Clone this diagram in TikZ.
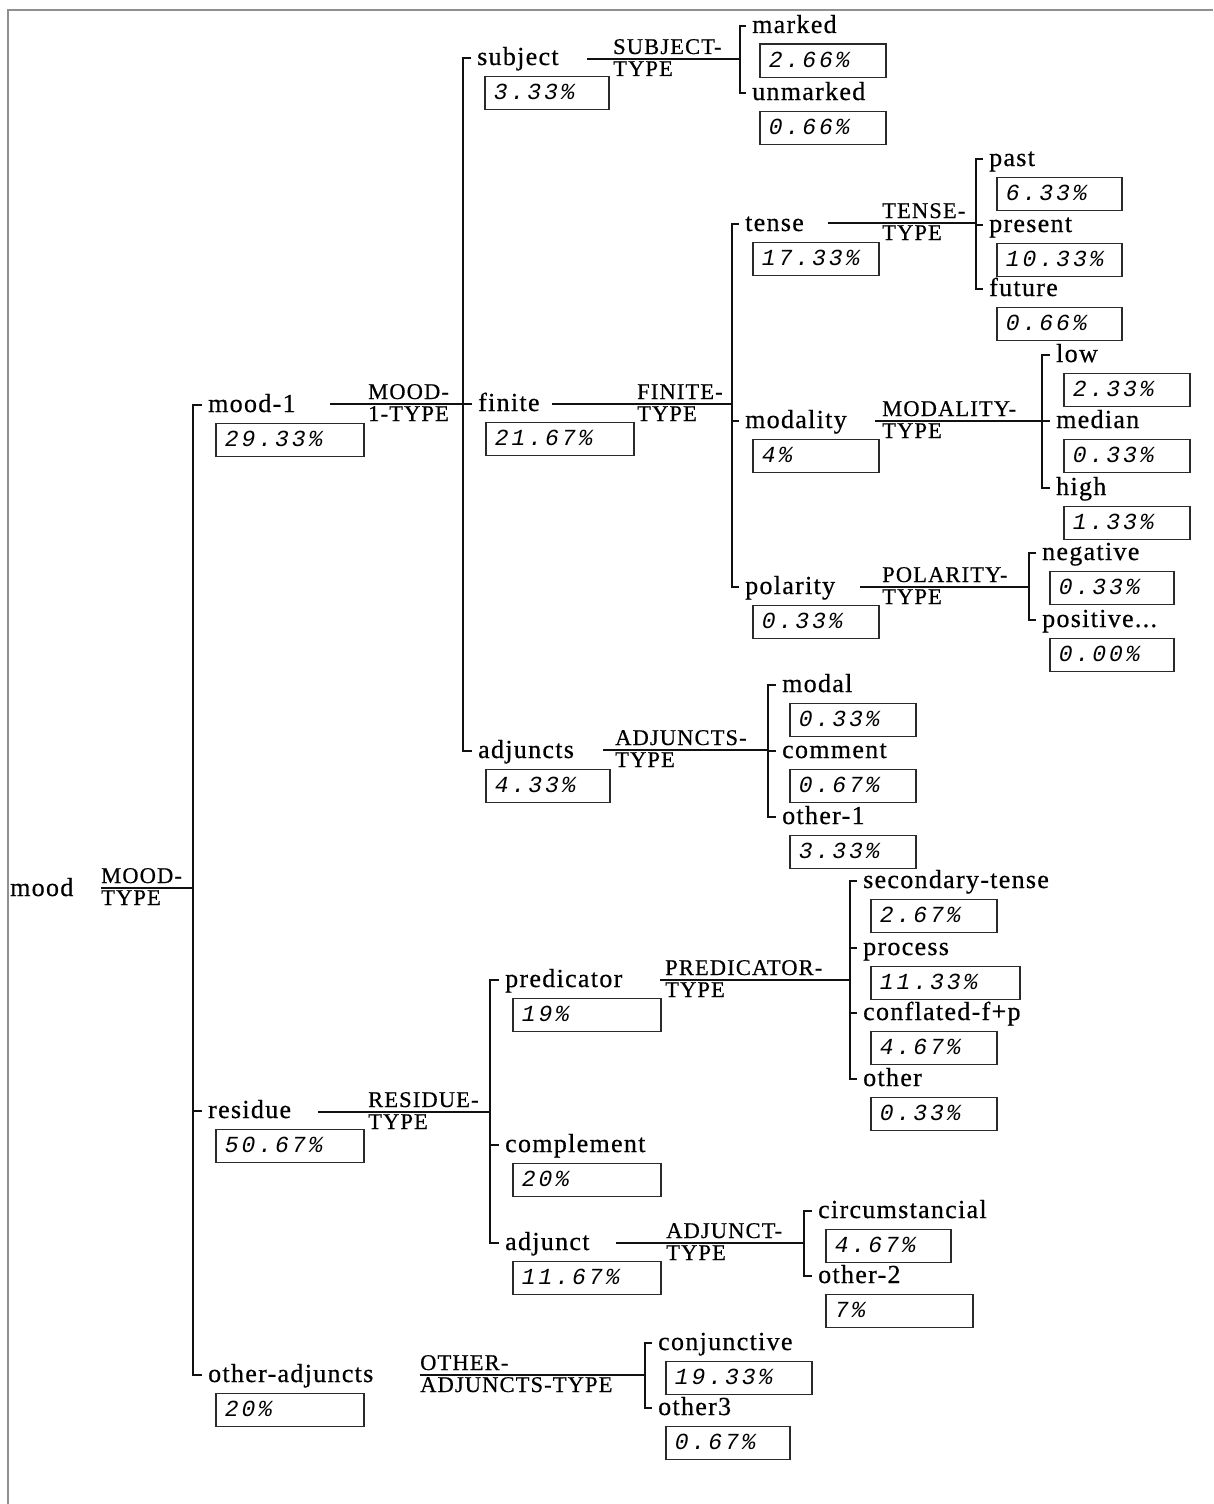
\documentclass[tikz,border=0pt]{standalone}
\usepackage{fontspec}
\setmainfont{Liberation Serif}
\newfontfamily\featfont[LetterSpace=5,FakeBold=0.6]{Liberation Serif}
\newfontfamily\sysfont[LetterSpace=5,FakeBold=0.5]{Liberation Serif}
\newfontfamily\pctfont[LetterSpace=13]{Liberation Mono}
\definecolor{linec}{HTML}{111111}
\definecolor{boxc}{HTML}{2A2A2A}
\definecolor{framec}{HTML}{909090}
\tikzset{
  conn/.style={line width=1.6pt, draw=linec},
  feat/.style={anchor=west, inner sep=0pt, font=\featfont\fontsize{26}{28}\selectfont, text height=18pt, text depth=4pt},
  pbox/.style={draw=boxc, line width=1.7pt, anchor=north west, inner xsep=9pt, inner ysep=0pt, minimum height=33pt, text height=14pt, text depth=0pt, font=\pctfont\itshape\fontsize{23}{25}\selectfont},
  sys/.style={anchor=base west, inner sep=0pt, font=\sysfont\fontsize{22.5}{22}\selectfont},
  frameline/.style={draw=framec, line width=2pt}
}
\newcommand\feat[6]{%
  \node[feat] (#1) at (#2,#3) {#4};
  \node[pbox] (#1p) at (#2+7,#3+17.5) {\makebox[\dimexpr#6pt-18pt\relax][l]{#5}};}
\newcommand\sys[5]{%
  \node[sys] (#1) at (#2,#3+17) {\vbox{\baselineskip=22pt\hbox{#4}\hbox{#5}}};}
\newcommand\tick[2]{\draw[conn] (#1 |- #2.west) -- ([xshift=-6pt]#2.west);}
\newcommand\brk[3]{\draw[conn] ([xshift=-6pt]#2.west) -| (#1) |- ([xshift=-6pt]#3.west);}
\begin{document}
\begin{tikzpicture}[x=1pt,y=-1pt]
\useasboundingbox (0,0) rectangle (1213,1504);
\draw[frameline] (8,1504) -- (8,10) -- (1213,10);

% root
\node[feat] (mood) at (10,889) {mood};
\sys{smood}{101}{888}{MOOD-}{TYPE}
\coordinate (moods) at (101,888); \coordinate (moodb) at (193,888);

% level 1
\feat{mood1}{208}{405}{mood-1}{29.33\%}{148}
\feat{residue}{208}{1111}{residue}{50.67\%}{148}
\feat{oadj}{208}{1375}{other-adjuncts}{20\%}{148}

% mood-1 children
\sys{smoodone}{368}{404}{MOOD-}{1-TYPE}
\coordinate (moodones) at (330,404); \coordinate (moodoneb) at (463,404);
\feat{subject}{477}{58}{subject}{3.33\%}{124}
\feat{finite}{478}{404}{finite}{21.67\%}{148}
\feat{adjuncts}{478}{751}{adjuncts}{4.33\%}{124}

% subject children
\sys{ssubj}{613}{59}{SUBJECT-}{TYPE}
\coordinate (subjs) at (587,59); \coordinate (subjb) at (740,59);
\feat{marked}{752}{26}{marked}{2.66\%}{126}
\feat{unmarked}{752}{93}{unmarked}{0.66\%}{126}

% finite children
\sys{sfin}{637}{404}{FINITE-}{TYPE}
\coordinate (fins) at (552,404); \coordinate (finb) at (732,404);
\feat{tense}{745}{224}{tense}{17.33\%}{126}
\feat{modality}{745}{421}{modality}{4\%}{126}
\feat{polarity}{745}{587}{polarity}{0.33\%}{126}

% tense children
\sys{stense}{882}{223}{TENSE-}{TYPE}
\coordinate (tenses) at (828,223); \coordinate (tenseb) at (976,223);
\feat{past}{989}{159}{past}{6.33\%}{125}
\feat{present}{989}{225}{present}{10.33\%}{125}
\feat{future}{989}{289}{future}{0.66\%}{125}

% modality children
\sys{smodal}{882}{421}{MODALITY-}{TYPE}
\coordinate (modals) at (875,421); \coordinate (modalb) at (1042,421);
\feat{low}{1056}{355}{low}{2.33\%}{126}
\feat{median}{1056}{421}{median}{0.33\%}{126}
\feat{high}{1056}{488}{high}{1.33\%}{126}

% polarity children
\sys{spol}{882}{587}{POLARITY-}{TYPE}
\coordinate (pols) at (860,587); \coordinate (polb) at (1029,587);
\feat{negative}{1042}{553}{negative}{0.33\%}{124}
\feat{positive}{1042}{620}{positive...}{0.00\%}{124}

% adjuncts children
\sys{sadjs}{615}{750}{ADJUNCTS-}{TYPE}
\coordinate (adjss) at (603,750); \coordinate (adjsb) at (768,750);
\feat{modal}{782}{685}{modal}{0.33\%}{126}
\feat{comment}{782}{751}{comment}{0.67\%}{126}
\feat{otherone}{782}{817}{other-1}{3.33\%}{126}

% residue children
\sys{sres}{368}{1112}{RESIDUE-}{TYPE}
\coordinate (ress) at (318,1112); \coordinate (resb) at (490,1112);
\feat{predicator}{505}{980}{predicator}{19\%}{148}
\feat{complement}{505}{1145}{complement}{20\%}{148}
\feat{adjunct}{505}{1243}{adjunct}{11.67\%}{148}

% predicator children
\sys{spred}{665}{980}{PREDICATOR-}{TYPE}
\coordinate (preds) at (660,980); \coordinate (predb) at (850,980);
\feat{sectense}{863}{881}{secondary-tense}{2.67\%}{126}
\feat{process}{863}{948}{process}{11.33\%}{149}
\feat{conflated}{863}{1013}{conflated-f+p}{4.67\%}{126}
\feat{other}{863}{1079}{other}{0.33\%}{126}

% adjunct children
\sys{sadjt}{666}{1243}{ADJUNCT-}{TYPE}
\coordinate (adjts) at (616,1243); \coordinate (adjtb) at (804,1243);
\feat{circ}{818}{1211}{circumstancial}{4.67\%}{125}
\feat{othertwo}{818}{1276}{other-2}{7\%}{147}

% other-adjuncts children
\sys{soadj}{420}{1375}{OTHER-}{ADJUNCTS-TYPE}
\coordinate (oadjs) at (420,1375); \coordinate (oadjb) at (645,1375);
\feat{conj}{658}{1343}{conjunctive}{19.33\%}{146}
\feat{otherthree}{658}{1408}{other3}{0.67\%}{124}

% connectors
\draw[conn] (moods) -- (moodb);
\brk{moodb}{mood1}{oadj} \tick{moodb}{residue}
\draw[conn] (moodones) -- (moodoneb);
\brk{moodoneb}{subject}{adjuncts} \tick{moodoneb}{finite}
\draw[conn] (subjs) -- (subjb);
\brk{subjb}{marked}{unmarked}
\draw[conn] (fins) -- (finb);
\brk{finb}{tense}{polarity} \tick{finb}{modality}
\draw[conn] (tenses) -- (tenseb);
\brk{tenseb}{past}{future} \tick{tenseb}{present}
\draw[conn] (modals) -- (modalb);
\brk{modalb}{low}{high} \tick{modalb}{median}
\draw[conn] (pols) -- (polb);
\brk{polb}{negative}{positive}
\draw[conn] (adjss) -- (adjsb);
\brk{adjsb}{modal}{otherone} \tick{adjsb}{comment}
\draw[conn] (ress) -- (resb);
\brk{resb}{predicator}{adjunct} \tick{resb}{complement}
\draw[conn] (preds) -- (predb);
\brk{predb}{sectense}{other} \tick{predb}{process} \tick{predb}{conflated}
\draw[conn] (adjts) -- (adjtb);
\brk{adjtb}{circ}{othertwo}
\draw[conn] (oadjs) -- (oadjb);
\brk{oadjb}{conj}{otherthree}
\end{tikzpicture}
\end{document}
